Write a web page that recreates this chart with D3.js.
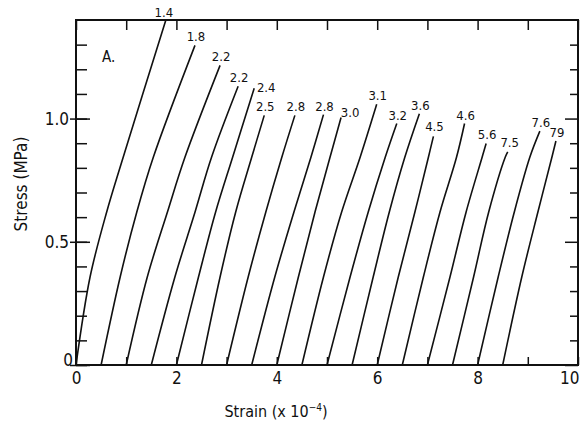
<!DOCTYPE html>
<html>
<head>
<meta charset="utf-8">
<script src="https://cdn.jsdelivr.net/npm/d3@7"></script>
<style>
  body { margin: 0; background: #fff; }
  svg text { font-family: "DejaVu Sans Condensed", "Liberation Sans Narrow", "DejaVu Sans", sans-serif; fill: #111; }
</style>
</head>
<body>
<svg width="581" height="423"></svg>
<script>
var svg = d3.select('svg');
var margin = {top: 20, right: 3, bottom: 58, left: 76};
var width = 581 - margin.left - margin.right,
    height = 423 - margin.top - margin.bottom;

// each loading curve: strain (x 1e-4) read at the stress levels below, then its end point
var stressLevels = [0, 0.357, 0.62, 0.843];
var strainAtLevels = [
    [0.0, 0.28, 0.61, 0.94],
    [0.5, 0.88, 1.21, 1.54],
    [1.0, 1.42, 1.82, 2.17],
    [1.5, 1.97, 2.37, 2.70],
    [2.0, 2.44, 2.78, 3.12],
    [2.5, 2.87, 3.18, 3.50],
    [3.0, 3.43, 3.78, 4.10],
    [3.5, 3.96, 4.34, 4.68],
    [4.0, 4.43, 4.76, 5.06],
    [4.5, 4.93, 5.29, 5.66],
    [5.0, 5.46, 5.82, 6.16],
    [5.5, 5.92, 6.24, 6.55],
    [6.0, 6.42, 6.75, 7.02],
    [6.5, 6.92, 7.25, 7.58],
    [7.0, 7.45, 7.77, 8.09],
    [7.5, 7.92, 8.22, 8.55],
    [8.0, 8.41, 8.73, 9.04],
    [8.5, 8.88, 9.20, 9.48]
];
var topStrain = [1.79, 2.37, 2.87, 3.23, 3.55, 3.75, 4.36, 4.93, 5.28, 5.99, 6.39, 6.84, 7.12, 7.74, 8.17, 8.60, 9.24, 9.56];
var topStress = [1.40, 1.297, 1.216, 1.131, 1.123, 1.013, 1.013, 1.016, 1.004, 1.058, 0.98, 1.02, 0.928, 0.98, 0.899, 0.865, 0.949, 0.909];
var curveLabels = ['1.4', '1.8', '2.2', '2.2', '2.4', '2.5', '2.8', '2.8', '3.0', '3.1', '3.2', '3.6', '4.5', '4.6', '5.6', '7.5', '7.6', '79'];

var xLabelTicks = [0, 2, 4, 6, 8, 10];
var yLabelTicks = [0, 0.5, 1.0];

// label nudges (px) where the label does not sit straight above the curve end
var labelNudge = {0: [-3, 1], 4: [11, 8], 8: [8, 3], 12: [0, -1], 15: [1, -1]};

var x = d3.scaleLinear().domain([0, 10]).range([0, width]);
var y = d3.scaleLinear().domain([0, 1.4]).range([height, 0]);

var g = svg.append('g')
    .attr('transform', 'translate(' + margin.left + ',' + margin.top + ')');

var curves = strainAtLevels.map(function(row, i) {
    var pts = row.map(function(e, j) { return [e, stressLevels[j]]; });
    pts.push([topStrain[i], topStress[i]]);
    return pts;
});

var line = d3.line()
    .x(function(d) { return x(d[0]); })
    .y(function(d) { return y(d[1]); })
    .curve(d3.curveCatmullRom.alpha(0.5));

g.selectAll('path.curve')
    .data(curves).enter().append('path')
    .attr('class', 'curve')
    .attr('fill', 'none')
    .attr('stroke', '#111')
    .attr('stroke-width', 1.6)
    .attr('d', line);

g.selectAll('text.clabel')
    .data(curveLabels).enter().append('text')
    .attr('class', 'clabel')
    .attr('x', function(d, i) { return x(topStrain[i]) + 1 + (labelNudge[i] ? labelNudge[i][0] : 0); })
    .attr('y', function(d, i) { return y(topStress[i]) - 4 + (labelNudge[i] ? labelNudge[i][1] : 0); })
    .attr('text-anchor', 'middle')
    .style('font-size', '13px')
    .text(function(d) { return d; });

// ticks
var xTicks = d3.range(0, 11);
var yMinor = d3.range(0, 14).map(function(d) { return d / 10; });

g.append('g')
    .attr('transform', 'translate(0,' + height + ')')
    .call(d3.axisBottom(x).tickValues(xTicks).tickSizeInner(-8).tickSizeOuter(0).tickPadding(7)
        .tickFormat(function(d) { return xLabelTicks.indexOf(d) >= 0 ? d : ''; }))
    .call(function(a) {
        a.select('.domain').remove();
        a.selectAll('text').style('font-size', '17px').attr('fill', '#111');
        a.selectAll('line').attr('stroke', '#111').attr('stroke-width', 1.5);
        a.selectAll('.tick').filter(function(d) { return d === 10; }).select('text')
            .attr('text-anchor', 'end').attr('x', 1);
    });

g.append('g')
    .call(d3.axisTop(x).tickValues(xTicks).tickSizeInner(-10).tickSizeOuter(0).tickFormat(''))
    .call(function(a) {
        a.select('.domain').remove();
        a.selectAll('line').attr('stroke', '#111').attr('stroke-width', 1.5);
    });

g.append('g')
    .call(d3.axisLeft(y).tickValues(yMinor).tickSizeInner(-11).tickSizeOuter(0).tickFormat(''))
    .call(function(a) {
        a.select('.domain').remove();
        a.selectAll('line').attr('stroke', '#111').attr('stroke-width', 1.5);
    });

g.append('g')
    .call(d3.axisLeft(y).tickValues(yLabelTicks).tickSizeInner(6).tickSizeOuter(0).tickPadding(3)
        .tickFormat(function(d) { return d === 0 ? '0' : d.toFixed(1); }))
    .call(function(a) {
        a.select('.domain').remove();
        a.selectAll('line').attr('x2', 14).attr('x1', -6).attr('stroke', '#111').attr('stroke-width', 1.5);
        a.selectAll('text').style('font-size', '17px').attr('fill', '#111').attr('x', -7);
        a.selectAll('.tick').filter(function(d) { return d === 0; }).select('text')
            .attr('x', -3).attr('dy', '0.05em');
    });

g.append('g')
    .attr('transform', 'translate(' + width + ',0)')
    .call(d3.axisRight(y).tickValues(yMinor).tickSizeInner(-8).tickSizeOuter(0).tickFormat(''))
    .call(function(a) {
        a.select('.domain').remove();
        a.selectAll('line').attr('stroke', '#111').attr('stroke-width', 1.5);
        a.selectAll('.tick').filter(function(d) { return yLabelTicks.indexOf(d) >= 0; }).select('line')
            .attr('x2', -13);
    });

g.append('rect')
    .attr('width', width)
    .attr('height', height)
    .attr('fill', 'none')
    .attr('stroke', '#111')
    .attr('stroke-width', 2);

g.append('text')
    .attr('x', 26)
    .attr('y', 42)
    .style('font-size', '15px')
    .text('A.');

// axis titles
var xt = svg.append('text')
    .attr('x', 276)
    .attr('y', 417)
    .attr('text-anchor', 'middle')
    .style('font-size', '16px');
xt.append('tspan').text('Strain  (x 10');
xt.append('tspan').attr('dy', -6).style('font-size', '10px').text('−4');
xt.append('tspan').attr('dy', 6).text(')');

svg.append('text')
    .attr('transform', 'translate(27,' + 184 + ') rotate(-90)')
    .attr('text-anchor', 'middle')
    .style('font-size', '17px')
    .text('Stress  (MPa)');
</script>
</body>
</html>
